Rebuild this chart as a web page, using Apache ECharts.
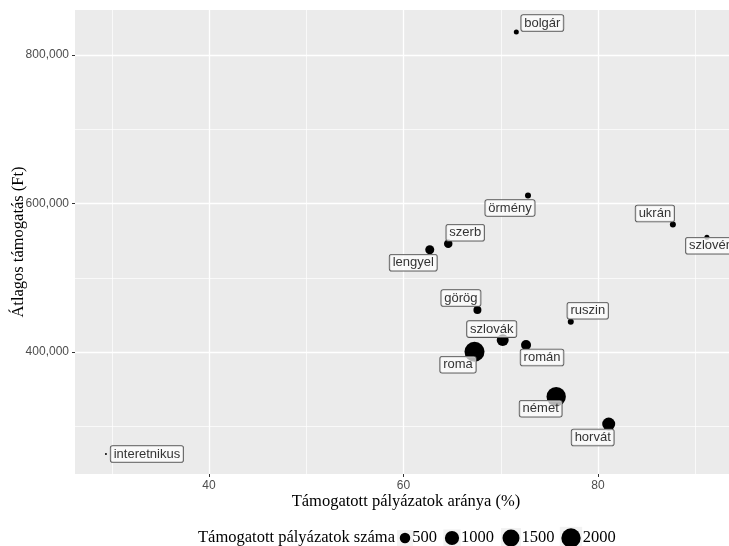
<!DOCTYPE html>
<html><head><meta charset="utf-8">
<script src="https://cdn.jsdelivr.net/npm/echarts@6/dist/echarts.min.js"></script>
<style>html,body{margin:0;padding:0;background:#fff}#c{width:729px;height:546px}</style>
</head><body><div id="c"></div>
<script>
// ---- data ----
const groups = ['bolgár','örmény','ukrán','szlovén','szerb','lengyel','interetnikus','görög','ruszin','szlovák','román','roma','német','horvát'];
const supportRate = [71.6, 72.8, 87.7, 91.2, 64.6, 62.7, 29.4, 67.6, 77.2, 70.2, 72.6, 67.3, 75.7, 81.1];
const avgSupport = [831000, 610800, 571700, 554600, 545700, 537700, 262600, 456600, 440800, 416000, 409400, 400400, 339800, 303000];
const supportedCount = [80, 125, 125, 80, 297, 342, 20, 257, 125, 677, 441, 2150, 2000, 815];
const legendSizes = [500, 1000, 1500, 2000];
const xTicks = [40, 60, 80];
const yTicks = [400000, 600000, 800000];

// ---- layout / style (not data) ----
const labelOffsets = {
  'bolgár':[26,-9], 'örmény':[-18,12.5], 'ukrán':[-18,-11], 'szlovén':[4,8.5],
  'szerb':[17,-11], 'lengyel':[-16.5,13], 'interetnikus':[41,0], 'görög':[-16.5,-12],
  'ruszin':[17,-11], 'szlovák':[-11,-11], 'román':[16,12.5], 'roma':[-16.5,13],
  'német':[-15.5,12], 'horvát':[-16,13.5]
};
const legendKeyX = [405, 452, 511, 571];
const legendY = 538;
const serifFont = '16.5px "Liberation Serif"';

const nMin = Math.min(...supportedCount), nMax = Math.max(...supportedCount);
function dotSize(n){ const t = Math.max(0,(n-nMin)/(nMax-nMin)); return 2 + 18*Math.sqrt(t); }

const seriesData = groups.map((g,i)=>({
  name: g,
  value: [supportRate[i], avgSupport[i], supportedCount[i]],
  label: {offset: labelOffsets[g]}
}));

const legendEls = [{
  type:'text', x:198, y: legendY,
  style:{text:'Támogatott pályázatok száma', font:serifFont, fill:'#000', verticalAlign:'middle'}
}];
legendSizes.forEach((v,i)=>{
  const d = dotSize(v), w = Math.max(16, d+3);
  legendEls.push({type:'rect', shape:{x:legendKeyX[i]-w/2, y:legendY-w/2, width:w, height:w}, style:{fill:'#F2F2F2'}});
  legendEls.push({type:'circle', shape:{cx:legendKeyX[i], cy:legendY, r:d/2}, style:{fill:'#000'}});
  legendEls.push({type:'text', x:legendKeyX[i]+d/2+2, y:legendY, style:{text:String(v), font:serifFont, fill:'#000', verticalAlign:'middle'}});
});

const chart = echarts.init(document.getElementById('c'), null, {renderer:'canvas'});
chart.setOption({
  animation:false,
  backgroundColor:'#fff',
  grid:{left:75, right:0, top:10, bottom:72, show:true, backgroundColor:'#EBEBEB', borderWidth:0,
        containLabel:false, outerBoundsMode:'none'},
  xAxis:{
    type:'value', min:26.22, max:93.47, splitNumber:3,
    name:'Támogatott pályázatok aránya (%)', nameLocation:'middle', nameGap:19, nameMoveOverlap:false,
    nameTextStyle:{fontFamily:'Liberation Serif', fontSize:16.5, color:'#000', padding:[0,0,0,8]},
    axisLine:{show:false},
    axisTick:{show:true, length:3, lineStyle:{color:'#333'}, customValues:xTicks},
    axisLabel:{customValues:xTicks, margin:6, color:'#4D4D4D', fontFamily:'Liberation Sans', fontSize:12},
    splitLine:{show:true, lineStyle:{color:'#fff', width:1.3}},
    minorTick:{show:false, splitNumber:2},
    minorSplitLine:{show:true, lineStyle:{color:'#fff', width:0.7}}
  },
  yAxis:{
    type:'value', min:235700, max:860600, splitNumber:3,
    name:'Átlagos támogatás (Ft)', nameLocation:'middle', nameGap:48, nameMoveOverlap:false,
    nameTextStyle:{fontFamily:'Liberation Serif', fontSize:16.5, color:'#000'},
    axisLine:{show:false},
    axisTick:{show:true, length:3, lineStyle:{color:'#333'}, customValues:yTicks},
    axisLabel:{customValues:yTicks, margin:6, color:'#4D4D4D', fontFamily:'Liberation Sans', fontSize:12,
      formatter:v=>Number(v).toLocaleString('en-US')},
    splitLine:{show:true, lineStyle:{color:'#fff', width:1.3}},
    minorTick:{show:false, splitNumber:2},
    minorSplitLine:{show:true, lineStyle:{color:'#fff', width:0.7}}
  },
  series:[{
    type:'scatter',
    data: seriesData,
    symbol:'circle',
    symbolSize:(val)=>dotSize(val[2]),
    itemStyle:{color:'#000', opacity:1},
    label:{show:true, position:'inside', formatter:p=>p.name,
      color:'#333', fontFamily:'Liberation Sans', fontSize:13,
      backgroundColor:'rgba(255,255,255,0.7)', borderColor:'#555', borderWidth:0.8, borderRadius:2,
      padding:[2,3,1,3]},
    emphasis:{disabled:true}
  }],
  graphic: legendEls
});
</script></body></html>
